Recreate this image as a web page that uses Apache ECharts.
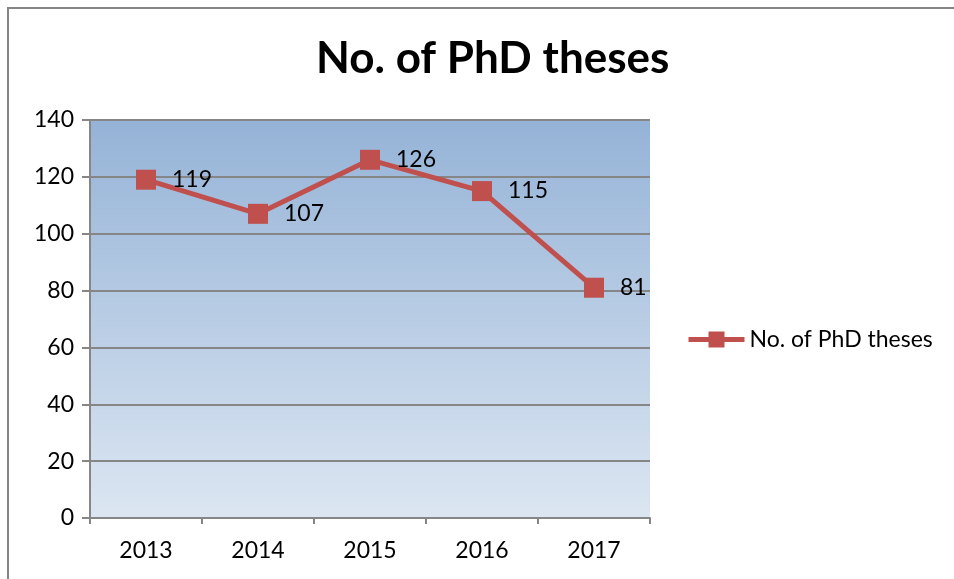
<!doctype html>
<html>
<head>
<meta charset="utf-8">
<title>No. of PhD theses</title>
<script src="https://cdn.jsdelivr.net/npm/echarts@6/dist/echarts.min.js"></script>
<style>
    body{margin: 0;}
    #main{width: 954px;height: 579px;}
</style>
</head>
<body>
<div id="main"></div>
<script>
    // data
    var years = ['2013', '2014', '2015', '2016', '2017'];
    var theses = [119, 107, 126, 115, 81];
    var seriesName = 'No. of PhD theses';

    var font = 'Lato, "Open Sans", sans-serif';
    var myChart = echarts.init(document.getElementById('main'));
    var option = {
        animation: false,
        title: {
            text: seriesName,
            left: 311,
            top: 32,
            textStyle: {fontSize: 44, fontWeight: 'bold', color: '#000', fontFamily: font}
        },
        // the outer chart border (only top and left show in the picture)
        graphic: [{
            type: 'rect',
            shape: {x: 8, y: 8, width: 1000, height: 1000},
            style: {fill: 'none', stroke: '#868686', lineWidth: 2},
            silent: true
        }],
        legend: {
            data: [seriesName],
            left: 681,
            top: 323,
            itemWidth: 56,
            itemHeight: 20,
            itemGap: 6,
            lineStyle: {width: 5, color: '#c0504d'},
            itemStyle: {color: '#c0504d'},
            textStyle: {fontSize: 23, color: '#000', fontFamily: font}
        },
        grid: {
            left: 90,
            right: 304,
            top: 120,
            bottom: 61,
            show: true,
            borderWidth: 0,
            backgroundColor: new echarts.graphic.LinearGradient(0, 0, 0, 1, [
                {offset: 0, color: '#95b3d7'},
                {offset: 1, color: '#dce6f2'}
            ])
        },
        xAxis: {
            type: 'category',
            data: years,
            boundaryGap: true,
            axisLine: {lineStyle: {color: '#868686', width: 2}},
            axisTick: {show: true, length: 6, interval: 0, lineStyle: {color: '#868686', width: 2}},
            axisLabel: {fontSize: 23, color: '#000', margin: 21, fontFamily: font}
        },
        yAxis: {
            type: 'value',
            min: 0,
            max: 140,
            interval: 20,
            axisLine: {show: true, lineStyle: {color: '#868686', width: 2}},
            axisTick: {show: true, length: 8, lineStyle: {color: '#868686', width: 2}},
            axisLabel: {fontSize: 23, color: '#000', margin: 16, fontFamily: font},
            splitLine: {lineStyle: {color: '#868686', width: 2}}
        },
        series: [{
            name: seriesName,
            type: 'line',
            data: theses,
            symbol: 'rect',
            symbolSize: 20,
            color: '#c0504d',
            lineStyle: {width: 5, color: '#c0504d'},
            itemStyle: {color: '#c0504d'},
            label: {
                show: true,
                position: 'right',
                distance: 16,
                fontSize: 23,
                color: '#000',
                fontFamily: font
            }
        }]
    };
    myChart.setOption(option);
</script>
</body>
</html>
